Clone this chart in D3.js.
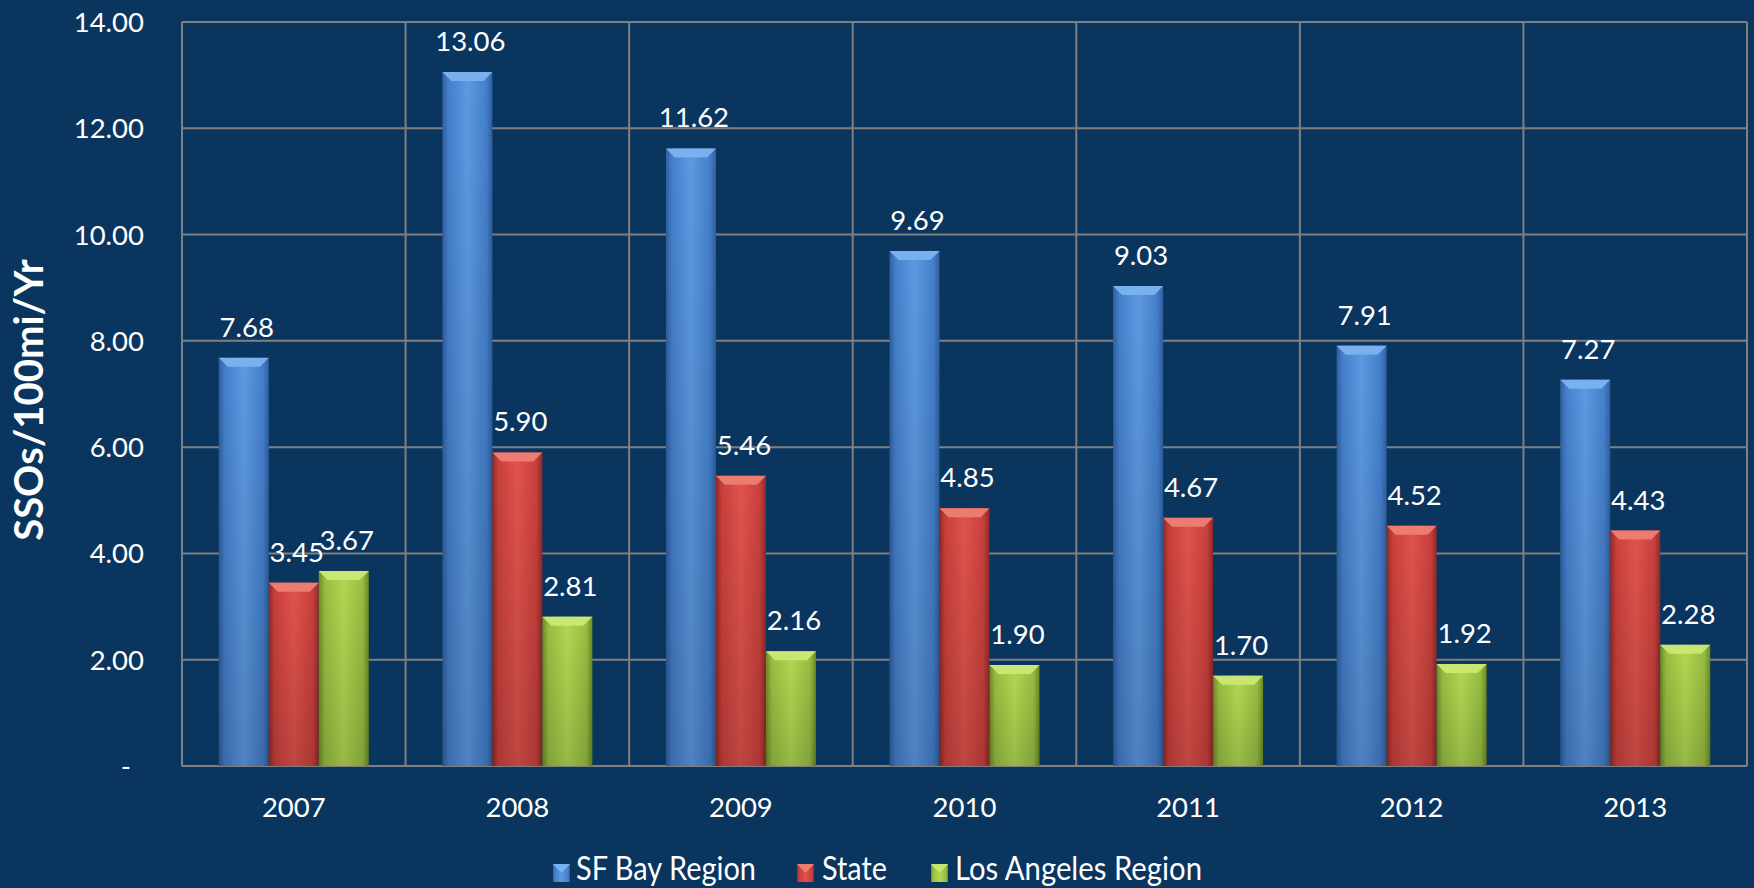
<!DOCTYPE html>
<html>
<head>
<meta charset="utf-8">
<script src="https://cdn.jsdelivr.net/npm/d3@7/dist/d3.min.js"></script>
<style>
  html, body { margin: 0; padding: 0; background: #09355f; }
  svg { display: block; }
  text { font-family: Lato, "Open Sans", sans-serif; fill: #ffffff; }
</style>
</head>
<body>
<svg id="chart" width="1754" height="888"></svg>
<script>
// ---- data ----
const years = ["2007", "2008", "2009", "2010", "2011", "2012", "2013"];
const seriesNames = ["SF Bay Region", "State", "Los Angeles Region"];
const sfBay = [7.68, 13.06, 11.62, 9.69, 9.03, 7.91, 7.27];
const state = [3.45, 5.90, 5.46, 4.85, 4.67, 4.52, 4.43];
const losAngeles = [3.67, 2.81, 2.16, 1.90, 1.70, 1.92, 2.28];
const yTicks = [0, 2, 4, 6, 8, 10, 12, 14];
const yTitle = "SSOs/100mi/Yr";

(function () {
const seriesValues = [sfBay, state, losAngeles];
const palette = [
  { light: "#5d9ae0", mid: "#447fcc", dark: "#2f5f9e", bevel: "#79b0ee" },
  { light: "#e0534c", mid: "#c9403c", dark: "#8f2a28", bevel: "#ec7b72" },
  { light: "#b3d852", mid: "#98be41", dark: "#6c8a26", bevel: "#c9e672" }
];

const svg = d3.select("#chart");
const pLeft = 182, pRight = 1747, pTop = 22, pBottom = 766;

const x0 = d3.scaleBand().domain(years).range([pLeft, pRight]).paddingInner(0).paddingOuter(0);
const x1 = d3.scaleBand().domain(seriesNames).range([0, x0.bandwidth()]).paddingInner(0).paddingOuter(0.736);
const y = d3.scaleLinear().domain([0, 14]).range([pBottom, pTop]);

// gradients
const defs = svg.append("defs");
palette.forEach((p, i) => {
  const g = defs.append("linearGradient").attr("id", "grad" + i)
    .attr("x1", "0").attr("x2", "1").attr("y1", "0").attr("y2", "0");
  g.append("stop").attr("offset", "0").attr("stop-color", p.dark);
  g.append("stop").attr("offset", "0.12").attr("stop-color", p.mid);
  g.append("stop").attr("offset", "0.5").attr("stop-color", p.light);
  g.append("stop").attr("offset", "0.88").attr("stop-color", p.mid);
  g.append("stop").attr("offset", "1").attr("stop-color", p.dark);
  const v = defs.append("linearGradient").attr("id", "vshade" + i)
    .attr("x1", "0").attr("x2", "0").attr("y1", "0").attr("y2", "1");
  v.append("stop").attr("offset", "0").attr("stop-color", "#000").attr("stop-opacity", 0);
  v.append("stop").attr("offset", "1").attr("stop-color", "#000").attr("stop-opacity", 0.15);
});

// grid
const grid = svg.append("g");
grid.selectAll("line.h").data(yTicks).join("line")
  .attr("x1", pLeft).attr("x2", pRight)
  .attr("y1", d => y(d)).attr("y2", d => y(d))
  .attr("stroke", "#808080").attr("stroke-width", 2);
const vb = years.map(d => x0(d)).concat([pRight]);
grid.selectAll("line.v").data(vb).join("line")
  .attr("x1", d => d).attr("x2", d => d)
  .attr("y1", pTop).attr("y2", pBottom)
  .attr("stroke", "#808080").attr("stroke-width", 2);

// y tick labels
svg.append("g").selectAll("text").data(yTicks).join("text")
  .attr("x", d => d === 0 ? 131 : 144)
  .attr("y", d => y(d) + 10)
  .attr("text-anchor", "end")
  .attr("font-size", 27.5)
  .text(d => d === 0 ? "-" : d.toFixed(2));

// y title
svg.append("text")
  .attr("transform", "translate(43,400) rotate(-90)")
  .attr("text-anchor", "middle")
  .attr("font-size", 40)
  .attr("font-weight", "bold")
  .text(yTitle);

// x labels
svg.append("g").selectAll("text").data(years).join("text")
  .attr("x", d => x0(d) + x0.bandwidth() / 2)
  .attr("y", 817)
  .attr("text-anchor", "middle")
  .attr("font-size", 27.5)
  .text(d => d);

// bars
const bev = 9;
seriesNames.forEach((s, si) => {
  const g = svg.append("g");
  const data = years.map((yr, i) => ({ yr, v: seriesValues[si][i] }));
  const bx = d => x0(d.yr) + x1(s);
  const bw = x1.bandwidth();
  g.selectAll("rect.b").data(data).join("rect")
    .attr("x", bx).attr("y", d => y(d.v))
    .attr("width", bw).attr("height", d => y(0) - y(d.v))
    .attr("fill", "url(#grad" + si + ")");
  g.selectAll("rect.s").data(data).join("rect")
    .attr("x", bx).attr("y", d => y(d.v))
    .attr("width", bw).attr("height", d => y(0) - y(d.v))
    .attr("fill", "url(#vshade" + si + ")");
  g.selectAll("path.bev").data(data).join("path")
    .attr("d", d => {
      const X = bx(d), Y = y(d.v);
      return `M${X},${Y}L${X + bw},${Y}L${X + bw - bev},${Y + bev}L${X + bev},${Y + bev}Z`;
    })
    .attr("fill", palette[si].bevel);
  g.selectAll("text").data(data).join("text")
    .attr("x", d => bx(d) + bw / 2 + 3)
    .attr("y", d => y(d.v) - 21)
    .attr("text-anchor", "middle")
    .attr("font-size", 27.5)
    .text(d => d.v.toFixed(2));
});

// legend
const legendX = [553, 797, 931];
const legendTextX = [576, 822, 955];
const legendTextW = [180, 65, 247];
const lg = svg.append("g");
seriesNames.forEach((s, si) => {
  lg.append("rect").attr("x", legendX[si]).attr("y", 864).attr("width", 17).attr("height", 18)
    .attr("fill", "url(#grad" + si + ")");
  lg.append("path")
    .attr("d", `M${legendX[si]},864L${legendX[si] + 17},864L${legendX[si] + 8.5},873Z`)
    .attr("fill", palette[si].bevel);
  lg.append("text").attr("x", legendTextX[si]).attr("y", 880)
    .attr("font-size", 32)
    .attr("textLength", legendTextW[si])
    .attr("lengthAdjust", "spacingAndGlyphs")
    .text(s);
});
})();
</script>
</body>
</html>
